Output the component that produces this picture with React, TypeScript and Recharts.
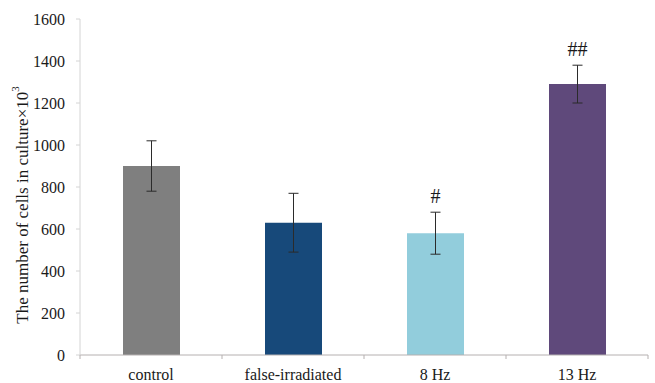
import { BarChart, Bar, XAxis, YAxis, ErrorBar, Cell, LabelList } from "recharts";

const categories = ["control", "false-irradiated", "8 Hz", "13 Hz"];
const cellCounts = [900, 630, 580, 1290];
const errors = [120, 140, 100, 90];
const marks = ["", "", "#", "##"];
const barColors = ["#7f7f7f", "#17497a", "#92cddc", "#5f497b"];
const yTicks = [0, 200, 400, 600, 800, 1000, 1200, 1400, 1600];

const W = 655;
const H = 383;
const M = { top: 19, right: 7, left: 0, bottom: 0 };
const Y_AXIS_W = 80;
const X_AXIS_H = 28;
const AXIS_Y = H - M.bottom - X_AXIS_H;
const FONT = "Liberation Serif, Times New Roman, serif";

const data = categories.map((name, i) => ({
  name,
  value: cellCounts[i],
  err: errors[i],
  mark: marks[i],
}));

// half a category band, used to put the x ticks between bars like Excel
const halfBand = (W - M.left - M.right - Y_AXIS_W) / categories.length / 2;

function XTick(props: any) {
  const { x, payload, index } = props;
  return (
    <g>
      <line x1={x - halfBand} x2={x - halfBand} y1={AXIS_Y} y2={AXIS_Y + 4} stroke="#b5b0b0" />
      {index === categories.length - 1 && (
        <line x1={x + halfBand} x2={x + halfBand} y1={AXIS_Y} y2={AXIS_Y + 4} stroke="#b5b0b0" />
      )}
      <text x={x} y={AXIS_Y + 25} textAnchor="middle" fontFamily={FONT} fontSize={16} fill="#1a1a1a">
        {payload.value}
      </text>
    </g>
  );
}

function MarkLabel(props: any) {
  const { x, y, width, height, value, index } = props;
  if (!value) return null;
  const perUnit = height / cellCounts[index];
  const errTop = y - errors[index] * perUnit;
  return (
    <text x={x + width / 2} y={errTop - 9} textAnchor="middle" fontFamily={FONT} fontSize={20} fill="#1a1a1a">
      {value}
    </text>
  );
}

function YTitle(props: any) {
  const { viewBox } = props;
  const cx = 22;
  const cy = viewBox.y + viewBox.height / 2 + 18;
  return (
    <text
      x={cx}
      y={cy}
      transform={`rotate(-90, ${cx}, ${cy})`}
      textAnchor="middle"
      dominantBaseline="central"
      fontFamily={FONT}
      fontSize={17}
      fill="#1a1a1a"
    >
      The number of cells in culture×10
      <tspan fontSize={11} dy={-7}>3</tspan>
    </text>
  );
}

export default function App() {
  return (
    <div style={{ position: "absolute", left: 0, top: 0, width: W, height: H, background: "#fff", fontFamily: FONT }}>
      <BarChart width={W} height={H} data={data} margin={M} barCategoryGap="20%">
        <XAxis
          dataKey="name"
          height={X_AXIS_H}
          stroke="#b5b0b0"
          tickLine={false}
          tick={<XTick />}
          interval={0}
        />
        <YAxis
          width={Y_AXIS_W}
          domain={[0, 1600]}
          ticks={yTicks}
          interval={0}
          stroke="#d4d4d4"
          tickSize={4}
          tickMargin={11}
          tick={{ fontFamily: FONT, fontSize: 16, fill: "#1a1a1a" }}
          label={{ content: <YTitle /> }}
        />
        <Bar dataKey="value" barSize={57} isAnimationActive={false}>
          {data.map((d, i) => (
            <Cell key={d.name} fill={barColors[i]} />
          ))}
          <ErrorBar dataKey="err" width={5} stroke="#2b2b2b" strokeWidth={1} />
          <LabelList dataKey="mark" content={<MarkLabel />} />
        </Bar>
      </BarChart>
    </div>
  );
}
